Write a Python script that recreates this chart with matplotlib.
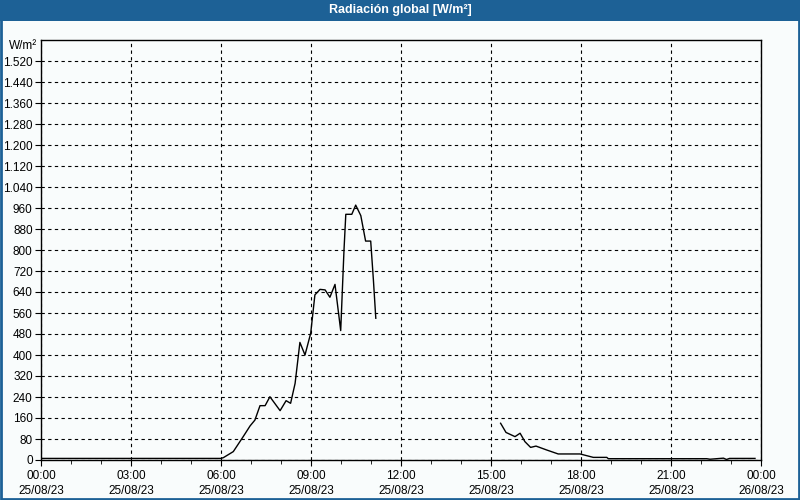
import numpy as np
import matplotlib
matplotlib.use("Agg")
from matplotlib import pyplot as plt
from matplotlib.patches import Rectangle
from matplotlib.ticker import FuncFormatter, MultipleLocator

# hours since 25/08/23 00:00 and global radiation in W/m2 (nan = no data)
hours = [0, 1, 2, 3, 4, 5, 6.0,
         6.08, 6.41, 6.74, 6.97, 7.13, 7.3, 7.47, 7.63, 7.97, 8.17, 8.32, 8.47,
         8.63, 8.8, 8.99, 9.13, 9.3, 9.47, 9.63, 9.8, 9.99, 10.1, 10.16, 10.36,
         10.49, 10.66, 10.82, 10.99, 11.08, 11.16,
         13.0,
         15.32, 15.5, 15.8, 15.97, 16.13, 16.32, 16.5, 16.86, 17.24, 17.97,
         18.41, 18.86, 18.91, 20.0, 21.0, 22.19, 22.3, 22.75, 22.85, 22.95,
         23.2, 23.8]
radiation = [6, 6, 6, 6, 6, 6, 6,
             9, 32, 89, 130, 152, 207, 207, 241, 188, 226, 216, 292,
             448, 400, 483, 629, 650, 648, 620, 669, 493, 800, 936, 936,
             971, 931, 834, 834, 686, 540,
             np.nan,
             140, 105, 89, 102, 70, 48, 53, 38, 23, 23,
             10, 10, 5, 5, 5, 5, 3, 7, 2, 6,
             6, 6]

xtick_labels = ["00:00\n25/08/23", "03:00\n25/08/23", "06:00\n25/08/23",
                "09:00\n25/08/23", "12:00\n25/08/23", "15:00\n25/08/23",
                "18:00\n25/08/23", "21:00\n25/08/23", "00:00\n26/08/23"]

blue = "#1d6196"
bg = "#f9fcfc"

plt.rcParams['font.family'] = ['Liberation Sans', 'DejaVu Sans']
fig = plt.figure(figsize=(8, 5), dpi=100, facecolor=bg)

# title bar and frame
fig.patches.append(Rectangle((0, 1 - 21 / 500), 1, 21 / 500, transform=fig.transFigure,
                             facecolor=blue, edgecolor="none", zorder=0))
fig.patches.append(Rectangle((1 / 800, 1 / 500), 1 - 2 / 800, 1 - 2 / 500, transform=fig.transFigure,
                             facecolor="none", edgecolor=blue, linewidth=2, zorder=0))
fig.text(0.5, 1 - 10.5 / 500, "Radiación global [W/m²]", color="white", fontsize=9,
         fontweight="bold", ha="center", va="center")

ax = fig.add_axes([41 / 800, 40 / 500, 720 / 800, 420 / 500])
ax.set_facecolor(bg)
ax.plot(hours, radiation, color="black", linewidth=1)

ax.set_xlim(0, 24)
ax.set_ylim(0, 1600)
ax.set_xticks(np.arange(0, 25, 3))
ax.set_xticklabels(xtick_labels, linespacing=1.4)
ax.xaxis.set_minor_locator(MultipleLocator(1))
ax.set_yticks(np.arange(0, 1521, 80))
ax.yaxis.set_major_formatter(FuncFormatter(lambda v, p: f"{int(v):,}".replace(",", ".")))

ax.grid(True, which="major", color="black", linestyle=(0, (3, 3)), linewidth=0.8)
ax.tick_params(axis="both", which="both", direction="out", labelsize=8.5, colors="black")
ax.tick_params(axis="both", which="major", length=4, pad=2)
ax.tick_params(axis="x", which="major", pad=3)
ax.tick_params(axis="x", which="minor", length=3)
for s in ax.spines.values():
    s.set_linewidth(1)

fig.text(9 / 800, 1 - 46 / 500, "W/m²", fontsize=8.5, ha="left", va="center")

fig.savefig("out.png", dpi=100, facecolor=bg)
